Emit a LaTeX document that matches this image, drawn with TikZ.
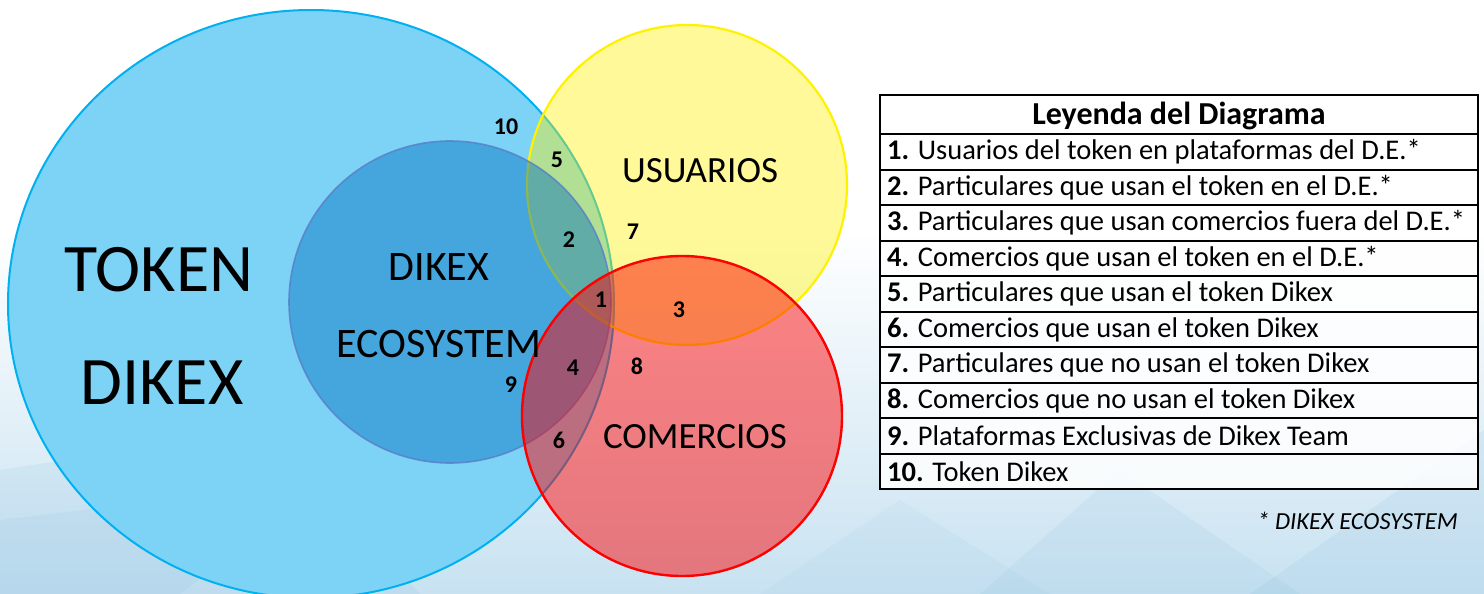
\documentclass[tikz,border=0pt]{standalone}
\usepackage{fontspec}
\setmainfont{Carlito}
\definecolor{bigfill}{RGB}{125,211,245}
\definecolor{bigline}{RGB}{0,176,240}
\definecolor{innerfill}{RGB}{0,112,192}
\definecolor{innerline}{RGB}{90,125,200}
\definecolor{bgblue}{RGB}{200,226,241}
\definecolor{bgpat}{RGB}{120,180,220}
\begin{document}
\begin{tikzpicture}[x=1pt,y=-1pt,
  num/.style={font=\bfseries\fontsize{24}{24}\selectfont, inner sep=0pt},
  bigtxt/.style={font=\fontsize{68}{68}\selectfont, inner sep=0pt},
  midtxt/.style={font=\fontsize{42}{42}\selectfont, inner sep=0pt},
  setlbl/.style={font=\fontsize{37}{37}\selectfont, inner sep=0pt},
  legitem/.style={font=\fontsize{28.5}{28.5}\selectfont, anchor=west, inner sep=0pt},
  leghead/.style={font=\bfseries\fontsize{32}{32}\selectfont, inner sep=0pt},
  rule/.style={line width=2pt, black}]
\useasboundingbox (0,0) rectangle (1484,594);
\clip (0,0) rectangle (1484,594);
% background
\fill[white] (0,0) rectangle (1484,594);
\shade[top color=white, bottom color=bgblue] (0,230) rectangle (1484,594);
\fill[bgpat, opacity=0.12] (0,470) -- (260,430) -- (420,594) -- (0,594) -- cycle;
\fill[bgpat, opacity=0.10] (0,520) -- (330,480) -- (180,594) -- (0,594) -- cycle;
\fill[bgpat, opacity=0.10] (980,594) -- (1120,470) -- (1300,594) -- cycle;
\fill[bgpat, opacity=0.12] (1250,594) -- (1484,430) -- (1484,594) -- cycle;
\fill[bgpat, opacity=0.07] (760,594) -- (900,500) -- (1050,594) -- cycle;
% circles
\draw[bigline, line width=2pt, fill=bigfill] (311,304) ellipse [x radius=303pt, y radius=294pt];
\draw[yellow, line width=2.2pt, fill=yellow, fill opacity=0.4] (687,185) circle [radius=160pt];
\draw[innerline, line width=1.6pt, draw opacity=0.8, fill=innerfill, fill opacity=0.45] (450,302) circle [radius=161pt];
\draw[red, line width=2.4pt, fill=red, fill opacity=0.48] (682,416) circle [radius=160pt];
% set labels
\node[bigtxt] (tok) at (159,270) {TOKEN};
\node[bigtxt] (dik) at (162,383) {DIKEX};
\node[midtxt] (eco1) at (439,267) {DIKEX};
\node[midtxt] (eco2) at (439,344) {ECOSYSTEM};
\node[setlbl] (usu) at (700,171) {USUARIOS};
\node[setlbl] (com) at (695,437) {COMERCIOS};
% region numbers
\node[num] (n10) at (506,127) {10};
\node[num] (n5) at (557,160) {5};
\node[num] (n2) at (569,240) {2};
\node[num] (n7) at (633,232) {7};
\node[num] (n1) at (601,300) {1};
\node[num] (n3) at (679,310) {3};
\node[num] (n4) at (573,368) {4};
\node[num] (n8) at (637,366) {8};
\node[num] (n9) at (511,385) {9};
\node[num] (n6) at (559,440) {6};
% legend
\fill[white, opacity=0.85] (880,95) rectangle (1478,489);
\draw[rule] (880,95) rectangle (1478,489);
\foreach \k in {0,...,9} {
  \draw[rule] (880,{134+35.5*\k}) -- (1478,{134+35.5*\k});
}
\node[leghead] (lh) at (1179,116) {Leyenda del Diagrama};
\node[legitem] (l1) at (887,152) {\textbf{1.} Usuarios del token en plataformas del D.E.*};
\node[legitem] (l2) at (887,187.5) {\textbf{2.} Particulares que usan el token en el D.E.*};
\node[legitem] (l3) at (887,223) {\textbf{3.} Particulares que usan comercios fuera del D.E.*};
\node[legitem] (l4) at (887,258.5) {\textbf{4.} Comercios que usan el token en el D.E.*};
\node[legitem] (l5) at (887,294) {\textbf{5.} Particulares que usan el token Dikex};
\node[legitem] (l6) at (887,329.5) {\textbf{6.} Comercios que usan el token Dikex};
\node[legitem] (l7) at (887,365) {\textbf{7.} Particulares que no usan el token Dikex};
\node[legitem] (l8) at (887,400.5) {\textbf{8.} Comercios que no usan el token Dikex};
\node[legitem] (l9) at (887,436) {\textbf{9.} Plataformas Exclusivas de Dikex Team};
\node[legitem] (l10) at (887,471.5) {\textbf{10.} Token Dikex};
\node[font=\itshape\fontsize{24.5}{24.5}\selectfont, anchor=east, inner sep=0pt] (foot) at (1458,521) {* DIKEX ECOSYSTEM};
\end{tikzpicture}
\end{document}
